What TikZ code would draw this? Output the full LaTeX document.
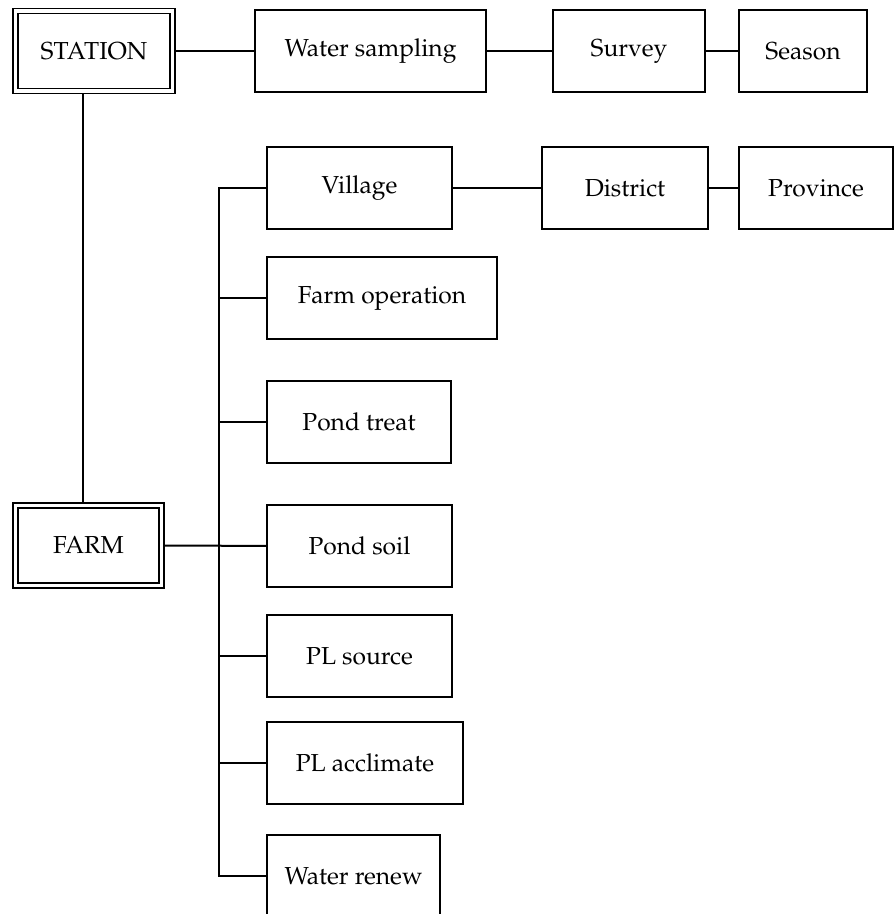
\documentclass[tikz,border=0pt]{standalone}
\usepackage[T1]{fontenc}
\usepackage{mathpazo}
\usepackage{tikz}
\usetikzlibrary{positioning}

\begin{document}
\begin{tikzpicture}[
  x=0.5pt, y=-0.5pt,
  every node/.style={font=\fontsize{12.3}{14}\selectfont},
  box/.style={draw, line width=1pt, inner sep=0pt, outer sep=0pt,
    minimum width=#1, minimum height=41pt},
  dbox/.style={draw, line width=0.8pt, double, double distance=1.8pt,
    inner sep=0pt, outer sep=1.7pt, minimum width=#1, minimum height=40pt},
  link/.style={line width=1pt},
]
\useasboundingbox (0,0) rectangle (895,914);

% top row
\node[dbox=78.5pt] (station) at (94,51) {STATION};
\node[box=115.5pt] (wsamp) at (370.5,51) {Water sampling};
\node[box=76pt] (survey) at (629,51) {Survey};
\node[box=64pt] (season) at (803,51) {Season};

% farm and its parts
\node[dbox=73pt] (farm) at (88.5,545.5) {FARM};
\node[box=92.5pt] (village) at (359.5,188) {Village};
\node[box=83pt] (district) at (625,188) {District};
\node[box=77pt] (province) at (816,188) {Province};
\node[box=115pt] (farmop) at (382,298) {Farm operation};
\node[box=92pt] (pondtreat) at (359,421.5) {Pond treat};
\node[box=92.5pt] (pondsoil) at (359.5,546) {Pond soil};
\node[box=92.5pt] (plsource) at (359.5,656) {PL source};
\node[box=98pt] (placc) at (365,763) {PL acclimate};
\node[box=86.5pt] (wrenew) at (353.5,876) {Water renew};
\coordinate (bus) at (219,0);

\draw[link] (station) -- (wsamp) -- (survey) -- (season);
\draw[link] (village) -- (district) -- (province);
\draw[link] ([xshift=-2.75pt]farm.north) -- ([xshift=-2.75pt]farm.north |- station.south);
\draw[link] (farm) -- (pondsoil);
\draw[link] (village.west) -- (village.west -| bus) -- (wrenew.west -| bus) -- (wrenew.west);
\foreach \n in {farmop,pondtreat,plsource,placc}
  \draw[link] (\n.west) -- (\n.west -| bus);
\end{tikzpicture}
\end{document}
